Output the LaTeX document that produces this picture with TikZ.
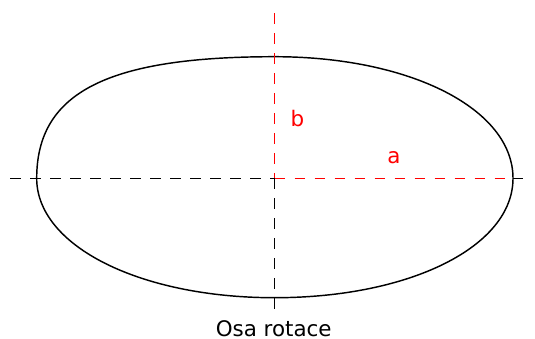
\documentclass[tikz,border=0pt]{standalone}
\usepackage{fontspec}
\setmainfont{DejaVu Sans}
\usetikzlibrary{positioning}
\definecolor{ink}{HTML}{000000}
\definecolor{axisred}{HTML}{FF0000}

\begin{document}
\begin{tikzpicture}[x=1bp,y=-1bp]
  \tikzstyle{obrys}=[draw=ink,line width=1.45bp]
  \tikzstyle{osa}=[draw=ink,line width=1.45bp,dash pattern=on 10.5bp off 9.5bp]
  \tikzstyle{poloosa}=[osa,draw=axisred]
  \tikzstyle{lbl}=[inner sep=0pt,anchor=base,font=\fontsize{21.5}{24}\selectfont]
  \useasboundingbox (0,0) rectangle (535,338);
  % axes
  \coordinate (c) at (274.5,178.3);
  \coordinate (l) at (10,178.3);
  \coordinate (r) at (513,178.3);
  \coordinate (rr) at (523,178.3);
  \coordinate (t) at (274.5,13);
  \coordinate (d) at (274.5,315);
  % outline points
  \coordinate (eL) at (36.7,178.3);
  \coordinate (eT) at (274.5,56.7);
  \coordinate (eR) at (513,178.3);
  \coordinate (eB) at (274.5,297.7);
  \draw[obrys] (eL) .. controls (36.7,92.7) and (107.1,56.7) .. (eT)
    .. controls (410.4,56.7) and (513,109) .. (eR)
    .. controls (513,246.4) and (410.4,297.7) .. (eB)
    .. controls (140.1,297.7) and (36.7,246) .. (eL) -- cycle;
  \draw[osa] (l) -- (c);
  \draw[poloosa] (c) -- (r);
  \draw[obrys] (r) -- (rr);
  \draw[poloosa] (t) -- (c);
  \draw[osa] (c) -- (d);
  \node[lbl,text=axisred] (b) at (297.5,126) {b};
  \node[lbl,text=axisred] (a) at (394,163) {a};
  \node[lbl,text=ink] (osa) at (273.7,336) {Osa rotace};
\end{tikzpicture}
\end{document}
